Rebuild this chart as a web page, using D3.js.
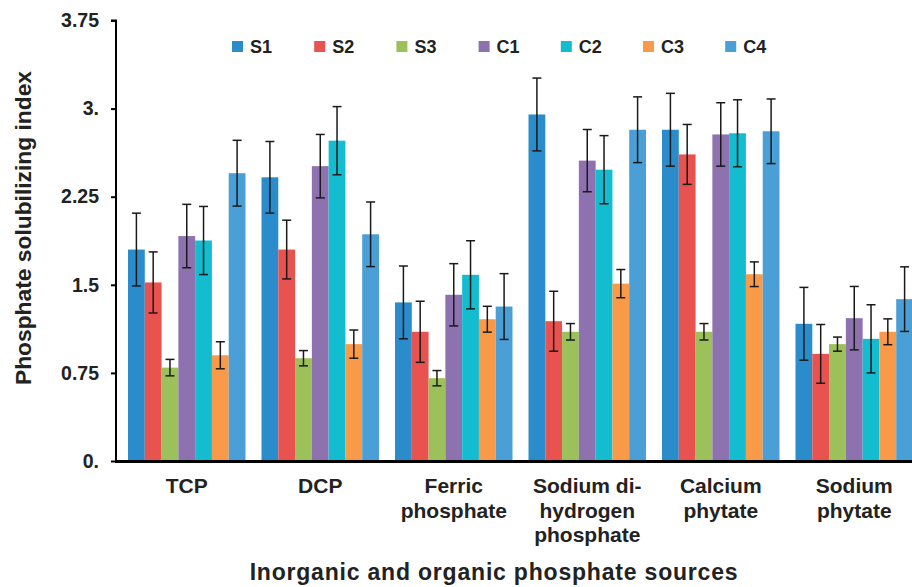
<!DOCTYPE html>
<html><head><meta charset="utf-8">
<script src="https://cdn.jsdelivr.net/npm/d3@7/dist/d3.min.js"></script>
<style>
html,body{margin:0;padding:0;background:#fff;}
svg{display:block;font-family:"Liberation Sans",Arial,sans-serif;}
</style></head>
<body><svg id="chart" width="912" height="587"></svg>
<script>
const categories = ["TCP","DCP","Ferric\nphosphate","Sodium di-\nhydrogen\nphosphate","Calcium\nphytate","Sodium\nphytate"];
const seriesNames = ["S1","S2","S3","C1","C2","C3","C4"];
const seriesColors = ["#2b8ccb","#e8524f","#9cc05a","#8e72b0","#14bcd0","#f99a48","#4aa0d6"];
// values per series, one per category
const S1 = [1.80, 2.415, 1.35, 2.95, 2.82, 1.168];
const S2 = [1.52, 1.80, 1.10, 1.19, 2.61, 0.912];
const S3 = [0.795, 0.875, 0.705, 1.10, 1.10, 0.995];
const C1 = [1.915, 2.51, 1.415, 2.557, 2.78, 1.216];
const C2 = [1.877, 2.727, 1.585, 2.48, 2.79, 1.04];
const C3 = [0.90, 0.995, 1.207, 1.51, 1.59, 1.10];
const C4 = [2.45, 1.93, 1.315, 2.82, 2.807, 1.378];
// error (+/-) per series
const S1err = [0.31, 0.305, 0.31, 0.31, 0.31, 0.31];
const S2err = [0.26, 0.25, 0.26, 0.255, 0.255, 0.25];
const S3err = [0.07, 0.065, 0.065, 0.07, 0.07, 0.06];
const C1err = [0.27, 0.27, 0.265, 0.265, 0.27, 0.27];
const C2err = [0.29, 0.29, 0.29, 0.29, 0.285, 0.29];
const C3err = [0.115, 0.12, 0.11, 0.12, 0.105, 0.11];
const C4err = [0.28, 0.275, 0.28, 0.28, 0.275, 0.275];
const yTickValues = [0, 0.75, 1.5, 2.25, 3, 3.75];
const yTickLabels = ["0.", "0.75", "1.5", "2.25", "3.", "3.75"];
const yTitle = "Phosphate solubilizing index";
const xTitle = "Inorganic and organic phosphate sources";

const values = [S1,S2,S3,C1,C2,C3,C4];
const errs = [S1err,S2err,S3err,C1err,C2err,C3err,C4err];

const svg = d3.select("#chart");
const x0 = d3.scaleBand().domain(d3.range(categories.length)).range([120, 921]).paddingInner(0.12).paddingOuter(0.06);
const x1 = d3.scaleBand().domain(seriesNames).range([0, x0.bandwidth()]).padding(0);
const y = d3.scaleLinear().domain([0, 3.75]).range([461, 20.5]);

const data = [];
categories.forEach((c, ci) => {
  seriesNames.forEach((s, si) => {
    data.push({ci, s, si, v: values[si][ci], e: errs[si][ci]});
  });
});

// bars
svg.append("g").selectAll("rect").data(data).join("rect")
  .attr("x", d => x0(d.ci) + x1(d.s))
  .attr("y", d => y(d.v))
  .attr("width", x1.bandwidth())
  .attr("height", d => y(0) - y(d.v))
  .attr("fill", d => seriesColors[d.si]);

// error bars
const eg = svg.append("g").attr("stroke", "#1a1a1a").attr("stroke-width", 1.5);
data.forEach(d => {
  const cx = x0(d.ci) + x1(d.s) + x1.bandwidth() / 2;
  const t = y(d.v + d.e), b = y(d.v - d.e);
  eg.append("line").attr("x1", cx).attr("x2", cx).attr("y1", t).attr("y2", b);
  eg.append("line").attr("x1", cx - 4.5).attr("x2", cx + 4.5).attr("y1", t).attr("y2", t);
  eg.append("line").attr("x1", cx - 4.5).attr("x2", cx + 4.5).attr("y1", b).attr("y2", b);
});

// y axis
const yAxis = d3.axisLeft(y).tickValues(yTickValues)
  .tickFormat((d, i) => yTickLabels[i]).tickSize(5).tickPadding(12);
const ya = svg.append("g").attr("transform", "translate(116,0)").call(yAxis);
ya.select(".domain").attr("stroke", "#000").attr("stroke-width", 2).attr("d", "M-5,20.5H0V461");
ya.selectAll(".tick line").attr("stroke", "#000").attr("stroke-width", 2);
ya.selectAll(".tick text").attr("font-size", "19.5px").attr("font-weight", "bold")
  .attr("fill", "#222").attr("font-family", "Liberation Sans, Arial, sans-serif");

// x axis line
svg.append("line").attr("x1", 115).attr("x2", 912).attr("y1", y(0) + 0.5).attr("y2", y(0) + 0.5)
  .attr("stroke", "#000").attr("stroke-width", 3);

// category labels
const cl = svg.append("g").attr("font-size", "21px").attr("font-weight", "bold").attr("fill", "#222")
  .attr("text-anchor", "middle");
categories.forEach((c, ci) => {
  const t = cl.append("text").attr("x", x0(ci) + x0.bandwidth() / 2).attr("y", 493);
  c.split("\n").forEach((line, li) => {
    t.append("tspan").attr("x", x0(ci) + x0.bandwidth() / 2).attr("dy", li === 0 ? 0 : 24.5).text(line);
  });
});

// axis titles
svg.append("text").attr("x", 494).attr("y", 580).attr("text-anchor", "middle")
  .attr("font-size", "23px").attr("letter-spacing", "0.8px").attr("font-weight", "bold").attr("fill", "#222").text(xTitle);
svg.append("text").attr("transform", "translate(31,228) rotate(-90)").attr("text-anchor", "middle")
  .attr("font-size", "22.8px").attr("font-weight", "bold").attr("fill", "#222").text(yTitle);

// legend
const lx = d3.scaleBand().domain(seriesNames).range([232, 232 + 7 * 82.2]);
const lg = svg.append("g").selectAll("g").data(seriesNames).join("g")
  .attr("transform", d => `translate(${lx(d)},41)`);
lg.append("rect").attr("width", 11).attr("height", 11).attr("fill", (d, i) => seriesColors[i]);
lg.append("text").attr("x", 18).attr("y", 11.5).attr("font-size", "18px").attr("font-weight", "bold")
  .attr("fill", "#222").text(d => d);
</script></body></html>
